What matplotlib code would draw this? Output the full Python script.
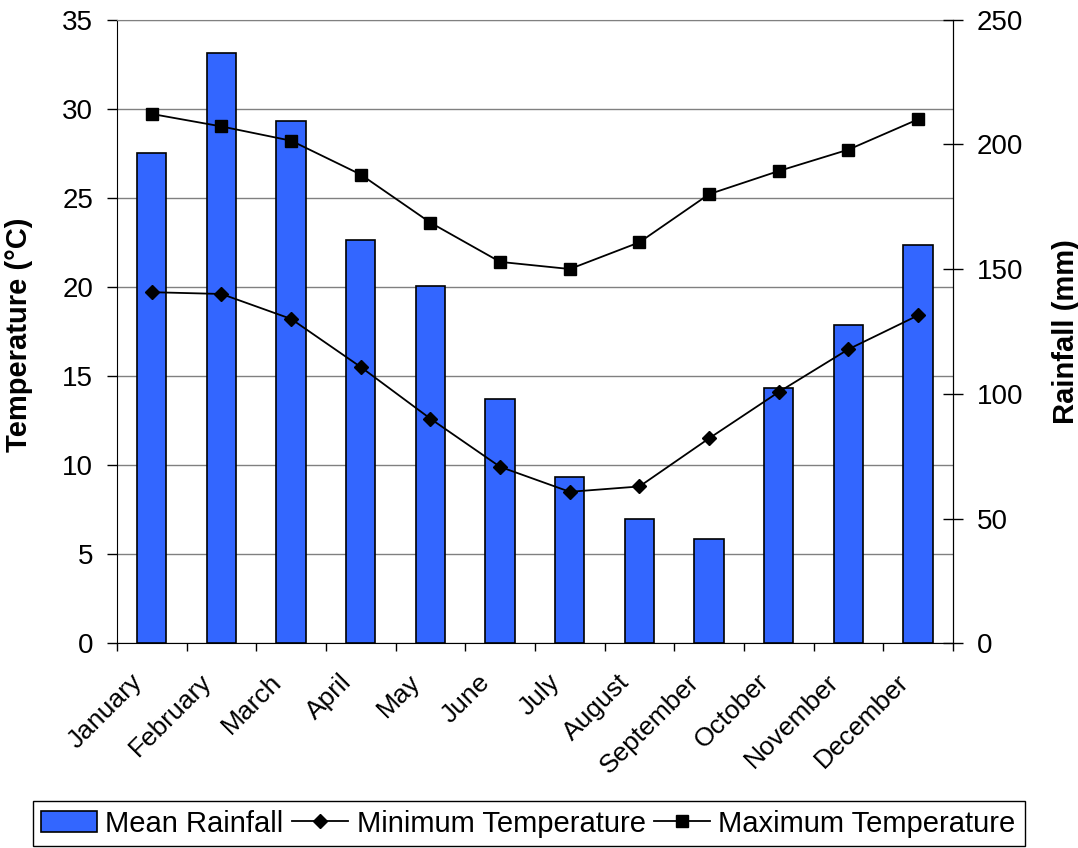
import matplotlib
matplotlib.use("Agg")
from matplotlib import pyplot as plt
from matplotlib.transforms import ScaledTranslation

plt.rcParams['font.family'] = ['Liberation Sans', 'DejaVu Sans']

months = ["January", "February", "March", "April", "May", "June", "July",
          "August", "September", "October", "November", "December"]
rainfall = [196.6, 236.5, 209.5, 161.5, 143.2, 97.9, 66.5, 49.7, 41.9, 102.4, 127.7, 159.8]
min_temp = [19.7, 19.6, 18.2, 15.5, 12.6, 9.9, 8.5, 8.8, 11.5, 14.1, 16.5, 18.4]
max_temp = [29.7, 29.0, 28.2, 26.3, 23.6, 21.4, 21.0, 22.5, 25.2, 26.5, 27.7, 29.4]
temp_ticks = list(range(0, 36, 5))
rain_ticks = list(range(0, 251, 50))

fig = plt.figure(figsize=(10.78, 8.48), dpi=100)
ax = fig.add_axes([0.1085, 0.2414, 0.7755, 0.7356])
ax2 = ax.twinx()   # rainfall bars
ax3 = ax.twinx()   # temperature lines, drawn above bars

x = list(range(len(months)))
ax2.bar(x, rainfall, width=0.42, color='#3366ff', edgecolor='black', linewidth=1.2,
        label="Mean Rainfall", zorder=2)
ax3.plot(x, min_temp, '-D', color='black', linewidth=1.3, markersize=7, label="Minimum Temperature")
ax3.plot(x, max_temp, '-s', color='black', linewidth=1.3, markersize=8, label="Maximum Temperature")

ax.set_xlim(-0.5, len(months) - 0.5)
ax.set_ylim(0, 35)
ax3.set_ylim(0, 35)
ax2.set_ylim(0, 250)
ax3.axis('off')

ax.set_yticks(temp_ticks)
ax2.set_yticks(rain_ticks)
ax.grid(axis='y', color='#808080', linewidth=1)
ax.set_axisbelow(True)

for s in ['left', 'bottom', 'right']:
    ax.spines[s].set_color('black')
ax.spines['top'].set_color('#808080')
for s in ['left', 'bottom', 'top']:
    ax2.spines[s].set_visible(False)
ax2.spines['right'].set_color('black')

ax.tick_params(axis='y', direction='out', length=7, width=1, labelsize=20, pad=10)
ax2.tick_params(axis='y', direction='inout', length=14, width=1, labelsize=20, pad=10)

# category boundaries get tick marks, centres get the labels
ax.set_xticks([i - 0.5 for i in range(len(months) + 1)])
ax.set_xticklabels([])
ax.tick_params(axis='x', which='major', direction='out', length=6, width=1)
ax.set_xticks(x, minor=True)
ax.set_xticklabels(months, minor=True, rotation=45, ha='right', va='top',
                   rotation_mode='anchor', fontsize=19)
ax.tick_params(axis='x', which='minor', length=0, pad=19)
shift = ScaledTranslation(-0.22, 0, fig.dpi_scale_trans)
for lbl in ax.get_xticklabels(minor=True):
    lbl.set_transform(lbl.get_transform() + shift)

ax.set_ylabel("Temperature (°C)", fontsize=21, fontweight='bold')
ax.yaxis.set_label_coords(-0.1005, 0.494)
ax2.set_ylabel("Rainfall (mm)", fontsize=21, fontweight='bold')
ax2.yaxis.set_label_coords(1.1184, 0.5)

h2, l2 = ax2.get_legend_handles_labels()
h3, l3 = ax3.get_legend_handles_labels()
leg = fig.legend(h2 + h3, l2 + l3, loc='center', bbox_to_anchor=(528.5 / 1078, 1 - 823.5 / 848),
                 ncol=3, fontsize=21, frameon=True, fancybox=False, edgecolor='black',
                 framealpha=1, handlelength=1.9, handletextpad=0.3, columnspacing=0.3,
                 borderpad=0.3, borderaxespad=0)
leg.get_frame().set_linewidth(1)

plt.savefig("out.png", dpi=100)
plt.close()
